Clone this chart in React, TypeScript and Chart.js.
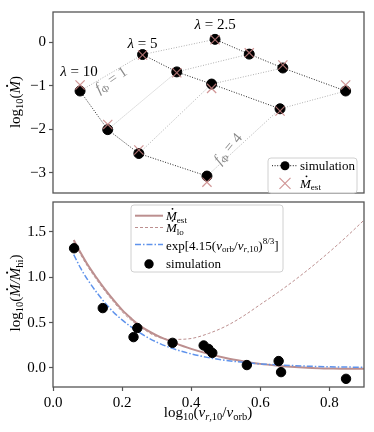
import React, { useEffect, useRef } from "react";
import { Chart, registerables } from "chart.js";
Chart.register(...registerables);

// ---------- top panel data ----------
const lambdaNames = ["10", "5", "2.5"];
const fPhiNames = ["1", "4"];
const gridX10 = [0.87, 1.76, 2.76, 4.95];
const gridX5 = [2.88, 3.98, 5.1, 7.3];
const gridX25 = [5.21, 6.31, 7.39, 9.41];
const simY10 = [-1.12, -2.01, -2.56, -3.08];
const simY5 = [-0.28, -0.68, -0.96, -1.53];
const simY25 = [0.07, -0.27, -0.59, -1.12];
const estY10 = [-0.98, -1.89, -2.48, -3.22];
const estY5 = [-0.29, -0.7, -1.06, -1.58];
const estY25 = [0.06, -0.24, -0.52, -0.98];
const topYTicks = [-3, -2, -1, 0];

// ---------- bottom panel data ----------
const curveX = [0.06, 0.08, 0.1, 0.125, 0.15, 0.175, 0.2, 0.225, 0.25, 0.3, 0.35, 0.4, 0.45, 0.5, 0.55, 0.6, 0.65, 0.7, 0.75, 0.8, 0.85, 0.9];
const estCurve = [1.41, 1.27, 1.14, 1.0, 0.87, 0.75, 0.64, 0.55, 0.47, 0.36, 0.28, 0.21, 0.155, 0.11, 0.075, 0.045, 0.025, 0.01, 0.0, -0.006, -0.01, -0.01];
const loCurve = [1.39, 1.25, 1.12, 0.98, 0.85, 0.73, 0.62, 0.53, 0.46, 0.345, 0.315, 0.325, 0.38, 0.46, 0.57, 0.7, 0.83, 0.97, 1.12, 1.28, 1.45, 1.63];
const expCurve = [1.25, 1.1, 0.975, 0.84, 0.72, 0.615, 0.53, 0.455, 0.39, 0.285, 0.21, 0.155, 0.114, 0.084, 0.062, 0.045, 0.034, 0.025, 0.018, 0.013, 0.01, 0.007];
const simX = [0.061, 0.144, 0.233, 0.244, 0.346, 0.436, 0.45, 0.461, 0.561, 0.653, 0.66, 0.848];
const simRatio = [1.32, 0.66, 0.34, 0.44, 0.277, 0.248, 0.21, 0.166, 0.032, 0.076, -0.046, -0.12];
const botXTicks = [0, 0.2, 0.4, 0.6, 0.8];
const botYTicks = [0, 0.5, 1.0, 1.5];

// ---------- styles ----------
const FONT = '"Liberation Serif", "DejaVu Serif", serif';
const SPINE = "#555";
const ROSY = "rgba(188,143,143,1)";
const ROSY_X = "rgba(200,130,130,0.85)";
const BLUE = "#5f93ec";

type Seg = { t: string; i?: boolean; sub?: boolean; sup?: boolean; dot?: boolean };

function fontFor(s: Seg, size: number) {
  const sz = s.sub || s.sup ? size * 0.7 : size;
  return `${s.i ? "italic " : ""}${sz}px ${FONT}`;
}
function richWidth(ctx: CanvasRenderingContext2D, segs: Seg[], size: number) {
  let w = 0;
  for (const s of segs) {
    ctx.font = fontFor(s, size);
    w += ctx.measureText(s.t).width;
  }
  return w;
}
function drawRich(ctx: CanvasRenderingContext2D, segs: Seg[], x: number, y: number, size: number, color: string, align: "left" | "center" = "left") {
  ctx.save();
  ctx.fillStyle = color;
  ctx.textBaseline = "alphabetic";
  ctx.textAlign = "left";
  let cx = align === "center" ? x - richWidth(ctx, segs, size) / 2 : x;
  for (const s of segs) {
    ctx.font = fontFor(s, size);
    const dy = s.sub ? size * 0.22 : s.sup ? -size * 0.4 : 0;
    ctx.fillText(s.t, cx, y + dy);
    const w = ctx.measureText(s.t).width;
    if (s.dot) {
      ctx.beginPath();
      ctx.arc(cx + w * 0.6, y - size * 0.86, size * 0.07, 0, Math.PI * 2);
      ctx.fill();
    }
    cx += w;
  }
  ctx.restore();
}

function drawFrame(chart: any) {
  const { ctx, chartArea: a } = chart;
  ctx.save();
  ctx.strokeStyle = SPINE;
  ctx.lineWidth = 1.3;
  ctx.strokeRect(a.left, a.top, a.right - a.left, a.bottom - a.top);
  ctx.restore();
}

function legendBox(ctx: CanvasRenderingContext2D, x: number, y: number, w: number, h: number) {
  ctx.save();
  ctx.beginPath();
  (ctx as any).roundRect(x, y, w, h, 3);
  ctx.fillStyle = "rgba(255,255,255,0.85)";
  ctx.fill();
  ctx.strokeStyle = "#d0d0d0";
  ctx.lineWidth = 1;
  ctx.stroke();
  ctx.restore();
}

function drawX(ctx: CanvasRenderingContext2D, x: number, y: number, r: number, color: string) {
  ctx.save();
  ctx.strokeStyle = color;
  ctx.lineWidth = 1.2;
  ctx.beginPath();
  ctx.moveTo(x - r, y - r);
  ctx.lineTo(x + r, y + r);
  ctx.moveTo(x - r, y + r);
  ctx.lineTo(x + r, y - r);
  ctx.stroke();
  ctx.restore();
}

const yTickFmt = (v: number) => (v < 0 ? "\u2212" + Math.abs(v) : String(v));

const topDecor = {
  id: "topDecor",
  afterDraw(chart: any) {
    const ctx: CanvasRenderingContext2D = chart.ctx;
    drawFrame(chart);
    const xs = chart.scales.x;
    const ys = chart.scales.y;
    // lambda labels
    const anchors = [
      [gridX10[0], simY10[0], -1, -15],
      [gridX5[0], simY5[0], 0, -6.5],
      [gridX25[0], simY25[0], 0, -10],
    ];
    anchors.forEach((a, k) => {
      const px = xs.getPixelForValue(a[0]) + a[2];
      const py = ys.getPixelForValue(a[1]) + a[3];
      drawRich(ctx, [{ t: "λ", i: true }, { t: " = " + lambdaNames[k] }], px, py, 15, "#000", "center");
    });
    // f_Phi labels
    const fAnch = [
      [gridX10[0], simY10[0], 31, -11, -34],
      [gridX10[3], simY10[3], 21, -27.5, -50],
    ];
    fAnch.forEach((a, k) => {
      const px = xs.getPixelForValue(a[0]) + a[2];
      const py = ys.getPixelForValue(a[1]) + a[3];
      ctx.save();
      ctx.translate(px, py);
      ctx.rotate((a[4] * Math.PI) / 180);
      drawRich(ctx, [{ t: "f", i: true }, { t: "Φ", sub: true }, { t: " = " + fPhiNames[k] }], 0, 4.5, 15, "#8a8a8a", "center");
      ctx.restore();
    });
    // y title
    ctx.save();
    ctx.translate(15, 102);
    ctx.rotate(-Math.PI / 2);
    drawRich(ctx, [{ t: "log" }, { t: "10", sub: true }, { t: "(" }, { t: "M", i: true, dot: true }, { t: ")" }], 0, 5, 15, "#000", "center");
    ctx.restore();
    // legend
    legendBox(ctx, 268, 158, 89, 35);
    ctx.save();
    ctx.strokeStyle = "#111";
    ctx.lineWidth = 1;
    ctx.setLineDash([1, 1.6]);
    ctx.beginPath();
    ctx.moveTo(272, 165.7);
    ctx.lineTo(298, 165.7);
    ctx.stroke();
    ctx.setLineDash([]);
    ctx.fillStyle = "#000";
    ctx.beginPath();
    ctx.arc(285, 165.7, 4.5, 0, Math.PI * 2);
    ctx.fill();
    ctx.restore();
    drawRich(ctx, [{ t: "simulation" }], 300, 169.5, 13, "#000");
    drawX(ctx, 285, 183.3, 5.5, ROSY_X);
    drawRich(ctx, [{ t: "M", i: true, dot: true }, { t: "est", sub: true }], 300, 187.5, 13, "#000");
  },
};

const botDecor = {
  id: "botDecor",
  afterDraw(chart: any) {
    const ctx: CanvasRenderingContext2D = chart.ctx;
    drawFrame(chart);
    // y title
    ctx.save();
    ctx.translate(15, 293 - 190);
    ctx.rotate(-Math.PI / 2);
    drawRich(
      ctx,
      [{ t: "log" }, { t: "10", sub: true }, { t: "(" }, { t: "M", i: true, dot: true }, { t: "/", i: true }, { t: "M", i: true, dot: true }, { t: "hi", sub: true }, { t: ")" }],
      0,
      5,
      15,
      "#000",
      "center"
    );
    ctx.restore();
    // x title
    drawRich(
      ctx,
      [{ t: "log" }, { t: "10", sub: true }, { t: "(" }, { t: "v", i: true }, { t: "r", i: true, sub: true }, { t: ",10", sub: true }, { t: "/" }, { t: "v", i: true }, { t: "orb", sub: true }, { t: ")" }],
      208,
      417 - 190,
      15,
      "#000",
      "center"
    );
    // legend
    const oy = -190;
    legendBox(ctx, 131, 205 + oy, 152, 67);
    ctx.save();
    ctx.lineWidth = 2;
    ctx.strokeStyle = ROSY;
    ctx.beginPath();
    ctx.moveTo(135, 215.7 + oy);
    ctx.lineTo(163, 215.7 + oy);
    ctx.stroke();
    ctx.lineWidth = 1;
    ctx.setLineDash([3, 2]);
    ctx.beginPath();
    ctx.moveTo(135, 227.5 + oy);
    ctx.lineTo(163, 227.5 + oy);
    ctx.stroke();
    ctx.strokeStyle = BLUE;
    ctx.lineWidth = 1.5;
    ctx.setLineDash([6, 2, 1.5, 2]);
    ctx.beginPath();
    ctx.moveTo(135, 244.5 + oy);
    ctx.lineTo(163, 244.5 + oy);
    ctx.stroke();
    ctx.setLineDash([]);
    ctx.fillStyle = "#000";
    ctx.beginPath();
    ctx.arc(149, 264 + oy, 4.7, 0, Math.PI * 2);
    ctx.fill();
    ctx.restore();
    drawRich(ctx, [{ t: "M", i: true, dot: true }, { t: "est", sub: true }], 166, 220 + oy, 13, "#000");
    drawRich(ctx, [{ t: "M", i: true, dot: true }, { t: "lo", sub: true }], 166, 232 + oy, 13, "#000");
    drawRich(
      ctx,
      [{ t: "exp[4.15(" }, { t: "v", i: true }, { t: "orb", sub: true }, { t: "/" }, { t: "v", i: true }, { t: "r", i: true, sub: true }, { t: ",10", sub: true }, { t: ")" }, { t: "8/3", sup: true }, { t: "]" }],
      166,
      249.5 + oy,
      13,
      "#000"
    );
    drawRich(ctx, [{ t: "simulation" }], 166, 268 + oy, 13, "#000");
  },
};

function pts(xs: number[], ys: number[]) {
  return xs.map((x, i) => ({ x, y: ys[i] }));
}

export default function App() {
  const topRef = useRef<HTMLCanvasElement>(null);
  const botRef = useRef<HTMLCanvasElement>(null);

  useEffect(() => {
    const cols = [
      [gridX10, simY10],
      [gridX5, simY5],
      [gridX25, simY25],
    ];
    const lambdaLines = cols.map((c) => ({
      data: pts(c[0], c[1]),
      showLine: true,
      borderColor: "#222",
      borderWidth: 1,
      borderDash: [1, 1.6],
      pointRadius: 0,
      order: 3,
    }));
    const fLines = [0, 1, 2, 3].map((k) => ({
      data: [
        { x: gridX10[k], y: simY10[k] },
        { x: gridX5[k], y: simY5[k] },
        { x: gridX25[k], y: simY25[k] },
      ],
      showLine: true,
      borderColor: "#b0b0b0",
      borderWidth: 1,
      borderDash: [1, 1.6],
      pointRadius: 0,
      order: 4,
    }));
    const allX = [...gridX10, ...gridX5, ...gridX25];
    const simPts = pts(allX, [...simY10, ...simY5, ...simY25]);
    const estPts = pts(allX, [...estY10, ...estY5, ...estY25]);

    const yTickCommon = {
      color: "#000",
      font: { family: FONT, size: 15 },
      padding: 3,
    };
    const gridCommon = { drawOnChartArea: false, tickLength: 4, tickColor: SPINE, tickWidth: 1.2 };

    const top = new Chart(topRef.current!, {
      type: "scatter",
      data: {
        datasets: [
          {
            data: estPts,
            pointStyle: "crossRot",
            pointRadius: 6.5,
            pointBorderColor: ROSY_X,
            pointBorderWidth: 1.2,
            backgroundColor: ROSY_X,
            order: 0,
          },
          {
            data: simPts,
            pointRadius: 5,
            pointBackgroundColor: "#000",
            pointBorderColor: "#000",
            order: 1,
          },
          ...lambdaLines,
          ...fLines,
        ] as any,
      },
      options: {
        animation: false,
        responsive: false,
        maintainAspectRatio: false,
        events: [],
        layout: { padding: { top: 10, right: 10, bottom: 7, left: 0 } },
        plugins: { legend: { display: false }, tooltip: { enabled: false } },
        scales: {
          x: { type: "linear", min: 0, max: 10, display: false },
          y: {
            type: "linear",
            min: -3.47,
            max: 0.7,
            afterFit: (s: any) => {
              s.width = 53;
            },
            afterBuildTicks: (s: any) => {
              s.ticks = topYTicks.map((v) => ({ value: v }));
            },
            ticks: { ...yTickCommon, callback: (v: any) => yTickFmt(Number(v)) },
            grid: gridCommon,
            border: { display: false },
          },
        },
      } as any,
      plugins: [topDecor],
    });

    const bot = new Chart(botRef.current!, {
      type: "scatter",
      data: {
        datasets: [
          {
            data: pts(simX, simRatio),
            pointRadius: 4.7,
            pointBackgroundColor: "#000",
            pointBorderColor: "#000",
            order: 0,
          },
          {
            data: pts(curveX, expCurve),
            showLine: true,
            borderColor: BLUE,
            borderWidth: 1.5,
            borderDash: [6, 2, 1.5, 2],
            pointRadius: 0,
            cubicInterpolationMode: "monotone",
            order: 1,
          },
          {
            data: pts(curveX, loCurve),
            showLine: true,
            borderColor: ROSY,
            borderWidth: 1,
            borderDash: [3, 2],
            pointRadius: 0,
            cubicInterpolationMode: "monotone",
            order: 2,
          },
          {
            data: pts(curveX, estCurve),
            showLine: true,
            borderColor: ROSY,
            borderWidth: 2,
            pointRadius: 0,
            cubicInterpolationMode: "monotone",
            order: 3,
          },
        ] as any,
      },
      options: {
        animation: false,
        responsive: false,
        maintainAspectRatio: false,
        events: [],
        layout: { padding: { top: 8, right: 10, bottom: 0, left: 0 } },
        plugins: { legend: { display: false }, tooltip: { enabled: false } },
        scales: {
          x: {
            type: "linear",
            min: 0,
            max: 0.9,
            afterFit: (s: any) => {
              s.height = 45;
            },
            afterBuildTicks: (s: any) => {
              s.ticks = botXTicks.map((v) => ({ value: v }));
            },
            ticks: { ...yTickCommon, maxRotation: 0, callback: (v: any) => Number(v).toFixed(1) },
            grid: gridCommon,
            border: { display: false },
          },
          y: {
            type: "linear",
            min: -0.21,
            max: 1.83,
            afterFit: (s: any) => {
              s.width = 53;
            },
            afterBuildTicks: (s: any) => {
              s.ticks = botYTicks.map((v) => ({ value: v }));
            },
            ticks: { ...yTickCommon, callback: (v: any) => Number(v).toFixed(1) },
            grid: gridCommon,
            border: { display: false },
          },
        },
      } as any,
      plugins: [botDecor],
    });

    return () => {
      top.destroy();
      bot.destroy();
    };
  }, []);

  return (
    <div style={{ position: "fixed", left: 0, top: 0, width: 374, height: 432, background: "#fff" }}>
      <canvas ref={topRef} width={374} height={205} style={{ position: "absolute", left: 0, top: 0, width: 374, height: 205 }} />
      <canvas ref={botRef} width={374} height={242} style={{ position: "absolute", left: 0, top: 190, width: 374, height: 242 }} />
    </div>
  );
}
